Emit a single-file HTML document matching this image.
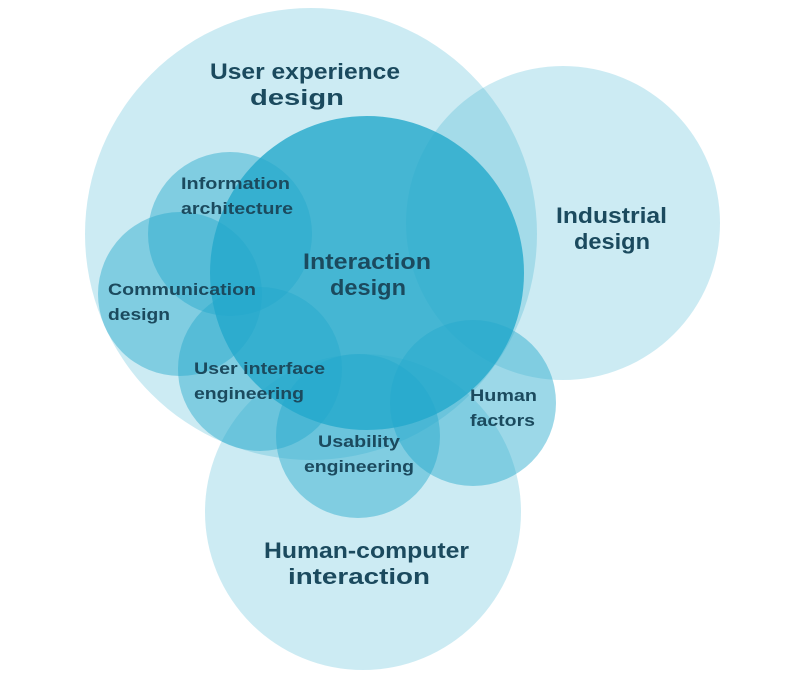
<!DOCTYPE html>
<html><head><meta charset="utf-8"><style>
html,body{margin:0;padding:0;background:#fff;}
svg text{font-family:"Liberation Sans",sans-serif;font-weight:bold;fill:#1b4a5e;text-anchor:start;}
</style></head><body>
<svg width="800" height="678" viewBox="0 0 800 678" xmlns="http://www.w3.org/2000/svg">
<g fill="#23a9cb">
<circle cx="311" cy="234" r="226" fill-opacity="0.23"/>
<circle cx="563" cy="223" r="157" fill-opacity="0.23"/>
<circle cx="363" cy="512" r="158" fill-opacity="0.23"/>
<circle cx="367" cy="273" r="157" fill-opacity="0.8"/>
<circle cx="230" cy="234" r="82" fill-opacity="0.45"/>
<circle cx="180" cy="294" r="82" fill-opacity="0.45"/>
<circle cx="260" cy="369" r="82" fill-opacity="0.45"/>
<circle cx="358" cy="436" r="82" fill-opacity="0.45"/>
<circle cx="473" cy="403" r="83" fill-opacity="0.45"/>
</g>
<text font-size="22" x="210" y="79" textLength="190" lengthAdjust="spacingAndGlyphs">User experience</text>
<text font-size="22" x="250" y="105" textLength="94" lengthAdjust="spacingAndGlyphs">design</text>
<text font-size="22" x="556" y="223" textLength="111" lengthAdjust="spacingAndGlyphs">Industrial</text>
<text font-size="22" x="574" y="249" textLength="76" lengthAdjust="spacingAndGlyphs">design</text>
<text font-size="22" x="303" y="269" textLength="128" lengthAdjust="spacingAndGlyphs">Interaction</text>
<text font-size="22" x="330" y="295" textLength="76" lengthAdjust="spacingAndGlyphs">design</text>
<text font-size="22" x="264" y="558" textLength="205" lengthAdjust="spacingAndGlyphs">Human-computer</text>
<text font-size="22" x="288" y="584" textLength="142" lengthAdjust="spacingAndGlyphs">interaction</text>
<text font-size="17" x="181" y="189" textLength="109" lengthAdjust="spacingAndGlyphs">Information</text>
<text font-size="17" x="181" y="214" textLength="112" lengthAdjust="spacingAndGlyphs">architecture</text>
<text font-size="17" x="108" y="295" textLength="148" lengthAdjust="spacingAndGlyphs">Communication</text>
<text font-size="17" x="108" y="320" textLength="62" lengthAdjust="spacingAndGlyphs">design</text>
<text font-size="17" x="194" y="374" textLength="131" lengthAdjust="spacingAndGlyphs">User interface</text>
<text font-size="17" x="194" y="399" textLength="110" lengthAdjust="spacingAndGlyphs">engineering</text>
<text font-size="17" x="318" y="447" textLength="82" lengthAdjust="spacingAndGlyphs">Usability</text>
<text font-size="17" x="304" y="472" textLength="110" lengthAdjust="spacingAndGlyphs">engineering</text>
<text font-size="17" x="470" y="401" textLength="67" lengthAdjust="spacingAndGlyphs">Human</text>
<text font-size="17" x="470" y="426" textLength="65" lengthAdjust="spacingAndGlyphs">factors</text>
</svg>
</body></html>
